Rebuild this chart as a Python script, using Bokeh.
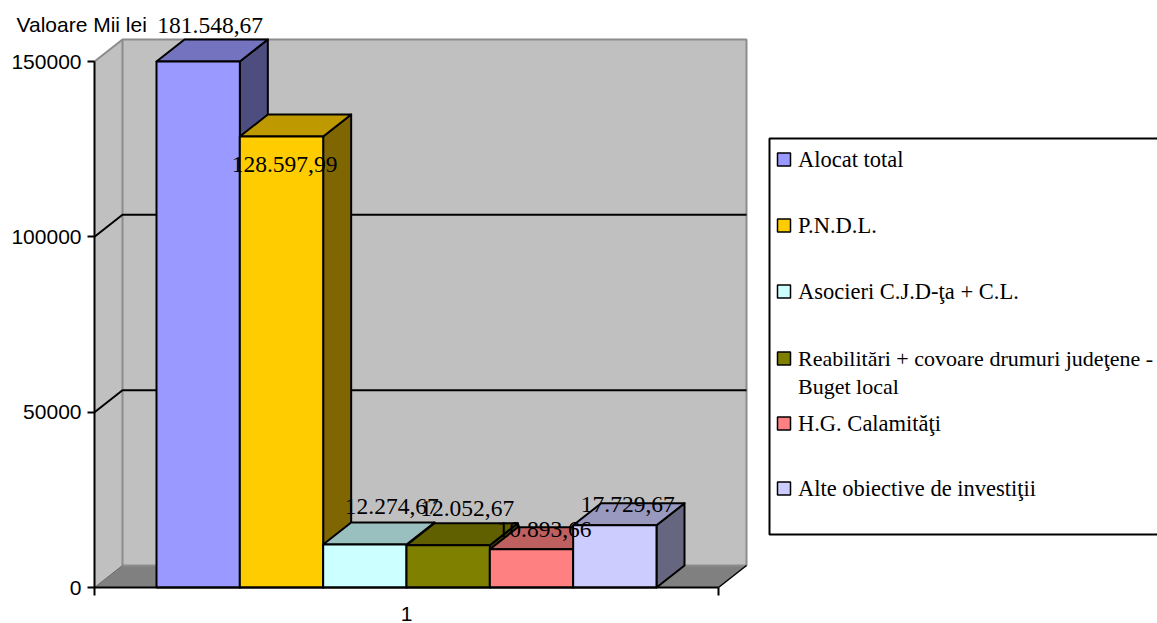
from bokeh.plotting import figure
from bokeh.models import FixedTicker, NumeralTickFormatter
from bokeh.core.properties import value
from bokeh.embed import file_html
from bokeh.resources import INLINE

# ---- data ----
series_names = ["Alocat total", "P.N.D.L.", "Asocieri C.J.D-ţa + C.L.",
                "Reabilitări + covoare drumuri judeţene -\nBuget local",
                "H.G. Calamităţi", "Alte obiective de  investiţii"]
series_values = [181548.67, 128597.99, 12274.67, 12052.67, 10893.66, 17729.67]
value_labels = ["181.548,67", "128.597,99", "12.274,67", "12.052,67", "10.893,66", "17.729,67"]
front_colors = ["#9999FF", "#FFCC00", "#CCFFFF", "#808000", "#FF8080", "#CCCCFF"]
top_colors = ["#7373BF", "#BF9900", "#99BFBF", "#606000", "#BF6060", "#9999BF"]
side_colors = ["#4D4D80", "#806600", "#668080", "#404000", "#804040", "#666680"]
y_ticks = [0, 50000, 100000, 150000]
y_max = 150000
category_label = "1"
axis_title = "Valoare Mii lei"

# ---- layout (reference pixels) ----
AX_L, AX_R, AX_B, AX_T = 94, 718, 587, 61
DEPTH_X, DEPTH_Y = 28, 22
FIG_W, FIG_H = 1157, 623
px_per_val = (AX_B - AX_T) / y_max

def X(px):
    return 0.5 + (px - AX_L) / (AX_R - AX_L)

def Y(py):
    return (AX_B - py) / px_per_val

dxd = DEPTH_X / (AX_R - AX_L)
dyd = DEPTH_Y / px_per_val

p = figure(width=FIG_W, height=FIG_H, output_backend="svg", toolbar_location=None,
           x_range=(X(0), X(FIG_W)), y_range=(Y(FIG_H), Y(0)),
           min_border=0, min_border_left=0, min_border_right=0, min_border_top=0,
           min_border_bottom=0, outline_line_color=None)
p.grid.visible = False

# axes (fixed inside the full-page frame)
SANS = "Liberation Sans"
SERIF = "Liberation Serif"
ya = p.yaxis[0]
ya.fixed_location = 0.5
ya.bounds = (0, y_max)
ya.ticker = FixedTicker(ticks=y_ticks)
ya.formatter = NumeralTickFormatter(format="0")
ya.major_tick_in = 0
ya.major_tick_out = 7
ya.minor_tick_in = 0
ya.minor_tick_out = 0
ya.major_tick_line_width = 2
ya.axis_line_width = 2
ya.axis_line_color = "black"
ya.major_label_text_font = SANS
ya.major_label_text_font_size = "21px"
ya.major_label_text_color = "black"
ya.major_label_standoff = 6

xa = p.xaxis[0]
xa.fixed_location = 0
xa.bounds = (0.5, 1.5)
xa.ticker = FixedTicker(ticks=[1], minor_ticks=[0.5, 1.5])
xa.major_label_overrides = {1: category_label}
xa.major_tick_in = 0
xa.major_tick_out = 0
xa.minor_tick_in = 0
xa.minor_tick_out = 8
xa.minor_tick_line_width = 2
xa.axis_line_width = 2
xa.axis_line_color = "black"
xa.major_label_text_font = SANS
xa.major_label_text_font_size = "21px"
xa.major_label_text_color = "black"
xa.major_label_standoff = 11

# walls + floor
x0, x1 = 0.5, 1.5
p.patches(xs=[[x0, x0 + dxd, x0 + dxd, x0],
              [x0 + dxd, x1 + dxd, x1 + dxd, x0 + dxd]],
          ys=[[y_max, y_max + dyd, dyd, 0],
              [y_max + dyd, y_max + dyd, dyd, dyd]],
          fill_color="#C0C0C0", line_color=None)
p.patch(x=[x0, x0 + dxd, x1 + dxd, x1], y=[0, dyd, dyd, 0], fill_color="#808080", line_color=None)

# wall edges
p.line(x=[x0, x0 + dxd, x1 + dxd, x1 + dxd, x0 + dxd, x0 + dxd],
       y=[y_max, y_max + dyd, y_max + dyd, dyd, dyd, y_max + dyd],
       line_color="#8C8C8C", line_width=2)
p.line(x=[x1 + dxd, x1], y=[dyd, 0], line_color="black", line_width=1.5)
p.line(x=[x0, x0 + dxd], y=[0, dyd], line_color="#666666", line_width=1)

# gridlines
for v in y_ticks[1:-1]:
    p.line(x=[x0, x0 + dxd, x1 + dxd], y=[v, v + dyd, v + dyd], line_color="black", line_width=2)

# bars
n = len(series_values)
bar_w = (500 / n) / (AX_R - AX_L)
gap = 62 / (AX_R - AX_L)
for i, val in enumerate(series_values):
    v = min(val, y_max)
    l = x0 + gap + i * bar_w
    r = l + bar_w
    p.patch(x=[r, r + dxd, r + dxd, r], y=[0, dyd, v + dyd, v], fill_color=side_colors[i],
            line_color="black", line_width=2, line_join="round")
    p.patch(x=[l, l + dxd, r + dxd, r], y=[v, v + dyd, v + dyd, v], fill_color=top_colors[i],
            line_color="black", line_width=2, line_join="round")
    p.quad(left=l, right=r, bottom=0, top=v, fill_color=front_colors[i],
           line_color="black", line_width=2)

# data labels
label_dx = [12, 3, 27, 19, 13, 13]
label_dy = [-36, 28, -38, -37, -20, -21]
for i, val in enumerate(series_values):
    v = min(val, y_max)
    c = x0 + gap + (i + 0.5) * bar_w
    p.text(x=[c], y=[v], text=[value_labels[i]], x_offset=label_dx[i], y_offset=label_dy[i],
           text_font=value(SERIF), text_font_size="23.5px", text_color="#000000",
           text_align="center", text_baseline="middle")

# axis title
p.text(x=[X(16)], y=[Y(24)], text=[axis_title], text_font=value(SANS), text_font_size="21px",
       text_color="#000000", text_align="left", text_baseline="middle")

# legend
LEG_L, LEG_T, LEG_B = 769, 138, 534
p.quad(left=X(LEG_L), right=X(1170), bottom=Y(LEG_B), top=Y(LEG_T), fill_color="white",
       line_color="black", line_width=2)
row_y = [159, 225, 291, 358, 423, 488]
LINE2 = 28
for i, name in enumerate(series_names):
    yc = row_y[i]
    p.quad(left=X(777), right=X(790), bottom=Y(yc + 6.5), top=Y(yc - 6.5), fill_color=front_colors[i],
           line_color="black", line_width=1.5)
    for j, line in enumerate(name.split("\n")):
        size = "22px" if i == 3 else "22.5px"
        p.text(x=[X(797.5)], y=[Y(yc + j * LINE2)], text=[line], text_font=value(SERIF),
               text_font_size=size, text_color="#000000", text_align="left", text_baseline="middle")

open("out.html", "w").write(file_html(p, INLINE))
